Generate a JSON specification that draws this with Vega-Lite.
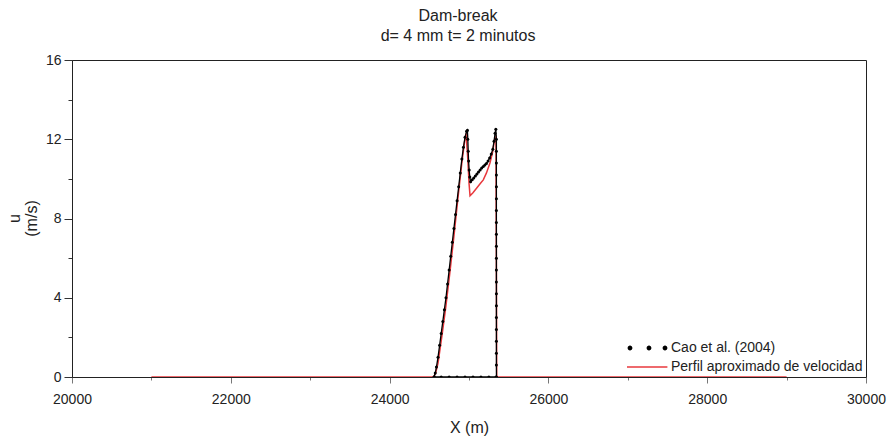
{
  "$schema": "https://vega.github.io/schema/vega-lite/v6.json",
  "width": 794,
  "height": 317,
  "autosize": {"type": "none"},
  "padding": {"left": 72, "top": 60, "right": 22, "bottom": 60},
  "background": "white",
  "config": {
    "font": "Liberation Sans",
    "view": {"stroke": "#222", "strokeWidth": 1}
  },
  "title": {
    "text": ["Dam-break", "d= 4 mm t= 2 minutos"],
    "fontSize": 16,
    "fontWeight": "normal",
    "color": "#222",
    "anchor": "middle",
    "offset": 9,
    "lineHeight": 20,
    "dx": -11
  },
  "datasets": {
    "model": [
      {"x": 21000, "u": 0, "series": "Perfil aproximado de velocidad"},
      {"x": 24555, "u": 0, "series": "Perfil aproximado de velocidad"},
      {"x": 24580, "u": 0.2, "series": "Perfil aproximado de velocidad"},
      {"x": 24610, "u": 0.7, "series": "Perfil aproximado de velocidad"},
      {"x": 24660, "u": 2.1, "series": "Perfil aproximado de velocidad"},
      {"x": 24710, "u": 3.6, "series": "Perfil aproximado de velocidad"},
      {"x": 24760, "u": 5.3, "series": "Perfil aproximado de velocidad"},
      {"x": 24810, "u": 7.1, "series": "Perfil aproximado de velocidad"},
      {"x": 24860, "u": 9.0, "series": "Perfil aproximado de velocidad"},
      {"x": 24910, "u": 10.8, "series": "Perfil aproximado de velocidad"},
      {"x": 24945, "u": 11.9, "series": "Perfil aproximado de velocidad"},
      {"x": 24962, "u": 12.3, "series": "Perfil aproximado de velocidad"},
      {"x": 24985, "u": 11.0, "series": "Perfil aproximado de velocidad"},
      {"x": 25000, "u": 9.8, "series": "Perfil aproximado de velocidad"},
      {"x": 25013, "u": 9.15, "series": "Perfil aproximado de velocidad"},
      {"x": 25050, "u": 9.3, "series": "Perfil aproximado de velocidad"},
      {"x": 25100, "u": 9.55, "series": "Perfil aproximado de velocidad"},
      {"x": 25150, "u": 9.8, "series": "Perfil aproximado de velocidad"},
      {"x": 25180, "u": 9.95, "series": "Perfil aproximado de velocidad"},
      {"x": 25220, "u": 10.3, "series": "Perfil aproximado de velocidad"},
      {"x": 25264, "u": 10.8, "series": "Perfil aproximado de velocidad"},
      {"x": 25300, "u": 11.4, "series": "Perfil aproximado de velocidad"},
      {"x": 25320, "u": 11.96, "series": "Perfil aproximado de velocidad"},
      {"x": 25340, "u": 12.1, "series": "Perfil aproximado de velocidad"},
      {"x": 25345, "u": 6.0, "series": "Perfil aproximado de velocidad"},
      {"x": 25349, "u": 0, "series": "Perfil aproximado de velocidad"},
      {"x": 29000, "u": 0, "series": "Perfil aproximado de velocidad"}
    ],
    "cao": [
      {"i": 1, "seg": "a", "x": 24560, "u": 0, "series": "Cao et al. (2004)"},
      {"i": 2, "seg": "a", "x": 24575, "u": 0.2, "series": "Cao et al. (2004)"},
      {"i": 3, "seg": "a", "x": 24590, "u": 0.5, "series": "Cao et al. (2004)"},
      {"i": 4, "seg": "a", "x": 24610, "u": 1.0, "series": "Cao et al. (2004)"},
      {"i": 5, "seg": "a", "x": 24630, "u": 1.6, "series": "Cao et al. (2004)"},
      {"i": 6, "seg": "a", "x": 24650, "u": 2.2, "series": "Cao et al. (2004)"},
      {"i": 7, "seg": "a", "x": 24670, "u": 2.8, "series": "Cao et al. (2004)"},
      {"i": 8, "seg": "a", "x": 24690, "u": 3.4, "series": "Cao et al. (2004)"},
      {"i": 9, "seg": "a", "x": 24710, "u": 4.0, "series": "Cao et al. (2004)"},
      {"i": 10, "seg": "a", "x": 24730, "u": 4.7, "series": "Cao et al. (2004)"},
      {"i": 11, "seg": "a", "x": 24750, "u": 5.4, "series": "Cao et al. (2004)"},
      {"i": 12, "seg": "a", "x": 24770, "u": 6.1, "series": "Cao et al. (2004)"},
      {"i": 13, "seg": "a", "x": 24790, "u": 6.8, "series": "Cao et al. (2004)"},
      {"i": 14, "seg": "a", "x": 24810, "u": 7.5, "series": "Cao et al. (2004)"},
      {"i": 15, "seg": "a", "x": 24830, "u": 8.2, "series": "Cao et al. (2004)"},
      {"i": 16, "seg": "a", "x": 24850, "u": 8.9, "series": "Cao et al. (2004)"},
      {"i": 17, "seg": "a", "x": 24870, "u": 9.6, "series": "Cao et al. (2004)"},
      {"i": 18, "seg": "a", "x": 24890, "u": 10.3, "series": "Cao et al. (2004)"},
      {"i": 19, "seg": "a", "x": 24910, "u": 11.0, "series": "Cao et al. (2004)"},
      {"i": 20, "seg": "a", "x": 24930, "u": 11.6, "series": "Cao et al. (2004)"},
      {"i": 21, "seg": "a", "x": 24950, "u": 12.1, "series": "Cao et al. (2004)"},
      {"i": 22, "seg": "a", "x": 24970, "u": 12.4, "series": "Cao et al. (2004)"},
      {"i": 23, "seg": "a", "x": 24980, "u": 12.45, "series": "Cao et al. (2004)"},
      {"i": 24, "seg": "a", "x": 24985, "u": 12.0, "series": "Cao et al. (2004)"},
      {"i": 25, "seg": "a", "x": 24990, "u": 11.4, "series": "Cao et al. (2004)"},
      {"i": 26, "seg": "a", "x": 24995, "u": 10.9, "series": "Cao et al. (2004)"},
      {"i": 27, "seg": "a", "x": 25002, "u": 10.45, "series": "Cao et al. (2004)"},
      {"i": 28, "seg": "a", "x": 25010, "u": 10.1, "series": "Cao et al. (2004)"},
      {"i": 29, "seg": "a", "x": 25020, "u": 9.85, "series": "Cao et al. (2004)"},
      {"i": 30, "seg": "a", "x": 25040, "u": 9.95, "series": "Cao et al. (2004)"},
      {"i": 31, "seg": "a", "x": 25060, "u": 10.05, "series": "Cao et al. (2004)"},
      {"i": 32, "seg": "a", "x": 25080, "u": 10.15, "series": "Cao et al. (2004)"},
      {"i": 33, "seg": "a", "x": 25100, "u": 10.25, "series": "Cao et al. (2004)"},
      {"i": 34, "seg": "a", "x": 25120, "u": 10.35, "series": "Cao et al. (2004)"},
      {"i": 35, "seg": "a", "x": 25140, "u": 10.45, "series": "Cao et al. (2004)"},
      {"i": 36, "seg": "a", "x": 25160, "u": 10.55, "series": "Cao et al. (2004)"},
      {"i": 37, "seg": "a", "x": 25180, "u": 10.62, "series": "Cao et al. (2004)"},
      {"i": 38, "seg": "a", "x": 25200, "u": 10.7, "series": "Cao et al. (2004)"},
      {"i": 39, "seg": "a", "x": 25220, "u": 10.78, "series": "Cao et al. (2004)"},
      {"i": 40, "seg": "a", "x": 25240, "u": 10.9, "series": "Cao et al. (2004)"},
      {"i": 41, "seg": "a", "x": 25260, "u": 11.05, "series": "Cao et al. (2004)"},
      {"i": 42, "seg": "a", "x": 25280, "u": 11.25, "series": "Cao et al. (2004)"},
      {"i": 43, "seg": "a", "x": 25300, "u": 11.5, "series": "Cao et al. (2004)"},
      {"i": 44, "seg": "a", "x": 25315, "u": 11.9, "series": "Cao et al. (2004)"},
      {"i": 45, "seg": "a", "x": 25328, "u": 12.3, "series": "Cao et al. (2004)"},
      {"i": 46, "seg": "a", "x": 25338, "u": 12.5, "series": "Cao et al. (2004)"},
      {"i": 47, "seg": "a", "x": 25345, "u": 12.0, "series": "Cao et al. (2004)"},
      {"i": 48, "seg": "a", "x": 25345, "u": 11.4, "series": "Cao et al. (2004)"},
      {"i": 49, "seg": "a", "x": 25345, "u": 10.8, "series": "Cao et al. (2004)"},
      {"i": 50, "seg": "a", "x": 25345, "u": 10.2, "series": "Cao et al. (2004)"},
      {"i": 51, "seg": "a", "x": 25345, "u": 9.6, "series": "Cao et al. (2004)"},
      {"i": 52, "seg": "a", "x": 25345, "u": 9.0, "series": "Cao et al. (2004)"},
      {"i": 53, "seg": "a", "x": 25345, "u": 8.4, "series": "Cao et al. (2004)"},
      {"i": 54, "seg": "a", "x": 25345, "u": 7.8, "series": "Cao et al. (2004)"},
      {"i": 55, "seg": "a", "x": 25345, "u": 7.2, "series": "Cao et al. (2004)"},
      {"i": 56, "seg": "a", "x": 25345, "u": 6.6, "series": "Cao et al. (2004)"},
      {"i": 57, "seg": "a", "x": 25345, "u": 6.0, "series": "Cao et al. (2004)"},
      {"i": 58, "seg": "a", "x": 25345, "u": 5.4, "series": "Cao et al. (2004)"},
      {"i": 59, "seg": "a", "x": 25345, "u": 4.8, "series": "Cao et al. (2004)"},
      {"i": 60, "seg": "a", "x": 25345, "u": 4.2, "series": "Cao et al. (2004)"},
      {"i": 61, "seg": "a", "x": 25345, "u": 3.6, "series": "Cao et al. (2004)"},
      {"i": 62, "seg": "a", "x": 25345, "u": 3.0, "series": "Cao et al. (2004)"},
      {"i": 63, "seg": "a", "x": 25345, "u": 2.4, "series": "Cao et al. (2004)"},
      {"i": 64, "seg": "a", "x": 25345, "u": 1.8, "series": "Cao et al. (2004)"},
      {"i": 65, "seg": "a", "x": 25345, "u": 1.2, "series": "Cao et al. (2004)"},
      {"i": 66, "seg": "a", "x": 25345, "u": 0.6, "series": "Cao et al. (2004)"},
      {"i": 67, "seg": "a", "x": 25346, "u": 0, "series": "Cao et al. (2004)"},
      {"i": 68, "seg": "a", "x": 25352, "u": -0.15, "series": "Cao et al. (2004)"},
      {"i": 69, "seg": "a", "x": 25380, "u": -0.2, "series": "Cao et al. (2004)"},
      {"i": 70, "seg": "a", "x": 25420, "u": -0.22, "series": "Cao et al. (2004)"},
      {"i": 71, "seg": "a", "x": 25460, "u": -0.25, "series": "Cao et al. (2004)"},
      {"i": 72, "seg": "a", "x": 25495, "u": -0.27, "series": "Cao et al. (2004)"},
      {"i": 101, "seg": "b", "x": 24560, "u": 0, "series": "Cao et al. (2004)"},
      {"i": 102, "seg": "b", "x": 24650, "u": 0, "series": "Cao et al. (2004)"},
      {"i": 103, "seg": "b", "x": 24750, "u": 0, "series": "Cao et al. (2004)"},
      {"i": 104, "seg": "b", "x": 24850, "u": 0, "series": "Cao et al. (2004)"},
      {"i": 105, "seg": "b", "x": 24950, "u": 0, "series": "Cao et al. (2004)"},
      {"i": 106, "seg": "b", "x": 25050, "u": 0, "series": "Cao et al. (2004)"},
      {"i": 107, "seg": "b", "x": 25150, "u": 0, "series": "Cao et al. (2004)"},
      {"i": 108, "seg": "b", "x": 25250, "u": 0, "series": "Cao et al. (2004)"},
      {"i": 109, "seg": "b", "x": 25340, "u": 0, "series": "Cao et al. (2004)"}
    ]
  },
  "encoding": {
    "x": {
      "field": "x",
      "type": "quantitative",
      "scale": {"domain": [20000, 30000], "nice": false, "zero": false},
      "axis": {
        "title": "X (m)",
        "values": [20000, 21000, 22000, 23000, 24000, 25000, 26000, 27000, 28000, 29000, 30000],
        "format": "d",
        "labelExpr": "datum.value % 2000 == 0 ? datum.label : ''",
        "tickSize": {"condition": {"test": "datum.value % 2000 != 0", "value": 3}, "value": 6},
        "tickColor": "#777",
        "domainColor": "#222",
        "labelFontSize": 14,
        "labelColor": "#222",
        "labelPadding": 9,
        "labelFlush": false,
        "titleFontSize": 16,
        "titleFontWeight": "normal",
        "titleColor": "#222",
        "titlePadding": 13,
        "grid": false
      }
    },
    "y": {
      "field": "u",
      "type": "quantitative",
      "scale": {"domain": [0, 16], "nice": false},
      "axis": {
        "title": ["u", "(m/s)"],
        "values": [0, 2, 4, 6, 8, 10, 12, 14, 16],
        "labelExpr": "datum.value % 4 == 0 ? datum.label : ''",
        "tickSize": {"condition": {"test": "datum.value % 4 != 0", "value": 4}, "value": 8},
        "tickColor": "#333",
        "domainColor": "#222",
        "labelFontSize": 14,
        "labelColor": "#222",
        "labelPadding": 3,
        "titleFontSize": 16,
        "titleFontWeight": "normal",
        "titleColor": "#222",
        "titleX": -58,
        "titleY": 158,
        "titleAlign": "center",
        "titleBaseline": "middle",
        "titleLineHeight": 17,
        "grid": false
      }
    },
    "color": {
      "field": "series",
      "type": "nominal",
      "scale": {
        "domain": ["Cao et al. (2004)", "Perfil aproximado de velocidad"],
        "range": ["#000000", "#e8383d"]
      },
      "legend": {
        "title": null,
        "orient": "none",
        "legendX": 584,
        "legendY": 281,
        "padding": 0,
        "labelFontSize": 14,
        "labelColor": "#222",
        "labelOffset": 1,
        "labelLimit": 0,
        "rowPadding": 5,
        "symbolSize": 64,
        "symbolOpacity": 1,
        "encode": {
          "symbols": {
            "update": {
              "shape": {"signal": "datum.value === 'Cao et al. (2004)' ? 'M-8.85,0a0.6,0.6 0 1,0 1.2,0a0.6,0.6 0 1,0 -1.2,0M-4.1,0a0.6,0.6 0 1,0 1.2,0a0.6,0.6 0 1,0 -1.2,0M-0.1,0a0.6,0.6 0 1,0 1.2,0a0.6,0.6 0 1,0 -1.2,0' : 'M-9.0,-0.2H1.1V0.2H-9.0Z'"},
              "fill": {"signal": "datum.value === 'Cao et al. (2004)' ? '#000000' : '#e8383d'"},
              "stroke": {"value": "transparent"},
              "strokeWidth": {"value": 0},
              "opacity": {"value": 1},
              "fillOpacity": {"value": 1}
            }
          }
        }
      }
    }
  },
  "layer": [
    {
      "data": {"name": "model"},
      "mark": {"type": "line", "strokeWidth": 1.5, "clip": true}
    },
    {
      "data": {"name": "cao"},
      "mark": {"type": "line", "strokeWidth": 1.3, "clip": true, "point": {"filled": true, "size": 9}},
      "encoding": {
        "detail": {"field": "seg", "type": "nominal"},
        "order": {"field": "i", "type": "quantitative"}
      }
    }
  ]
}
